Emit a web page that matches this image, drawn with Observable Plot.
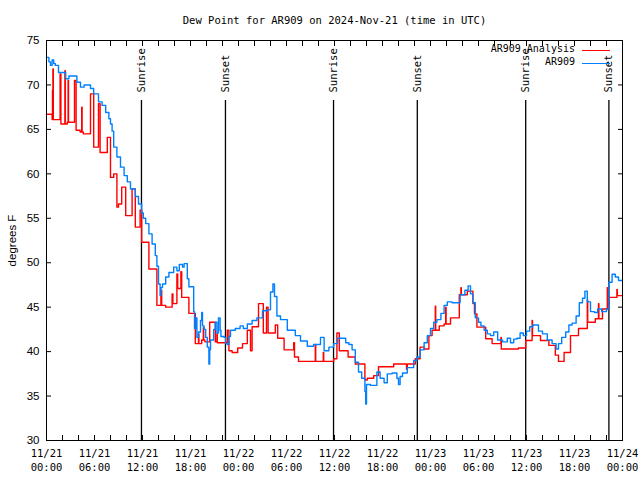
<!DOCTYPE html>
<html><head><meta charset="utf-8">
<script src="https://cdn.jsdelivr.net/npm/d3@7"></script>
<script src="https://cdn.jsdelivr.net/npm/@observablehq/plot@0.6"></script>
<style>
body{margin:0;background:#fff;}
#wrap{position:relative;width:640px;height:480px;overflow:hidden;}
#legend{position:absolute;right:0;top:0;font:10px "DejaVu Sans Mono",monospace;color:#000;}
.lrow{position:absolute;white-space:nowrap;}
.lrow span{position:absolute;right:65px;text-align:right;}
.lrow i{position:absolute;left:582px;width:28px;height:1.3px;}
</style>
</head><body><div id="wrap"><div id="legend"></div></div>
<script>
// hours after 2024-11-21 00:00 UTC
const obsHours = [0,0.3,0.5,0.7,0.9,1.1,1.5,2.4,2.8,3.8,4.25,4.7,5.5,5.9,6.5,6.95,7.4,7.8,8.0,8.2,8.4,8.8,9.25,9.7,10.1,10.5,11.1,11.5,11.9,12.1,12.4,12.8,13.2,13.6,13.8,14.0,14.2,14.3,14.5,14.9,15.3,15.9,16.3,16.6,17.0,17.2,17.6,17.8,18.4,18.5,18.7,18.8,19.0,19.25,19.4,19.5,19.7,19.9,20.1,20.3,20.4,20.5,20.9,21.1,21.3,21.5,21.7,21.8,22.2,22.4,22.6,22.8,23.0,23.6,24.2,24.6,25.1,25.7,26.3,27.0,27.6,28.0,28.3,28.5,28.8,29.25,30.1,31.1,31.75,32.6,33.4,34.25,34.7,35.3,35.9,36.4,37.4,37.8,38.2,38.6,39.0,39.4,39.8,39.9,40.0,40.5,41.3,41.7,42.2,42.6,43.2,43.8,44.0,44.2,44.5,45.1,45.9,46.3,46.7,47.2,47.6,48.0,48.4,48.8,49.3,49.7,50.1,50.7,51.7,52.3,52.7,53.0,53.3,53.6,54.0,54.3,54.7,55.1,55.5,55.9,56.4,57.0,57.6,58.0,58.4,58.8,59.2,59.6,60.0,60.4,60.8,61.5,62.0,62.6,63.2,63.7,64.0,64.4,64.9,65.3,65.7,66.2,66.6,67.0,67.3,67.6,68.0,68.5,68.9,69.4,70.0,70.3,70.7,71.1,71.5,72.0];
const obsDew = [73.1,72.6,72.2,72.8,72.4,72.2,71.4,70.7,71.0,70.3,69.75,70.0,69.6,69.0,68.1,67.7,66.9,66.2,65.6,64.8,63.0,61.9,60.75,59.8,59.1,58.3,57.45,56.6,55.6,55.0,54.4,53.25,52.1,50.8,49.6,47.6,46.3,47.2,47.6,48.4,48.9,49.5,49.1,49.8,49.5,49.9,48.2,47.3,44.5,42.6,43.8,41.6,42.2,43.5,44.4,42.9,42.5,41.6,40.5,38.6,40.2,41.3,42.5,43.3,42.1,43.8,42.4,41.7,41.6,40.9,40.8,41.7,42.4,42.6,42.9,42.6,43.1,43.5,43.8,44.6,44.7,46.7,47.6,46.2,44.0,43.6,42.4,41.8,41.2,40.6,40.8,41.6,40.1,40.5,40.9,41.5,41.0,40.8,40.2,38.8,37.7,37.0,35.5,34.1,36.3,36.2,37.7,37.0,36.5,37.5,37.6,37.0,36.3,37.2,37.6,38.2,39.0,39.4,40.2,41.0,41.8,42.6,43.3,43.6,44.3,45.2,45.6,45.5,46.4,46.9,47.4,46.5,45.5,43.8,43.3,42.9,42.4,42.0,41.8,42.2,41.3,41.1,41.5,41.0,41.4,41.5,42.1,41.8,42.3,42.8,43.0,42.3,42.0,41.3,40.9,40.3,40.9,41.6,42.2,43.0,43.2,44.0,45.5,46.0,46.8,45.6,44.5,44.4,44.8,44.5,44.8,47.8,48.7,48.4,48.0,48.0];
const anaHours = [0,0.7,0.75,0.8,0.85,1.7,1.8,2.3,2.35,2.6,2.7,2.75,3.5,3.7,4.2,4.4,4.45,4.6,5.5,5.9,6.5,6.7,7.6,8.0,8.4,8.8,9.0,9.4,9.9,10.7,11.1,11.7,11.9,12.8,13.8,14.3,14.4,14.9,15.7,15.8,16.3,16.4,16.8,16.9,17.8,18.6,19.0,19.05,19.4,19.6,19.65,19.8,20.4,21.1,21.3,21.35,22.6,22.8,23.2,23.9,24.5,25.1,25.5,25.7,26.5,27.1,27.5,27.7,28.6,28.9,29.7,30.9,31.0,31.5,33.6,33.65,34.6,34.65,35.9,36.3,36.6,37.7,38.6,39.8,40.1,40.9,41.5,43.4,45.0,45.1,46.1,46.7,47.2,47.8,48.2,48.6,48.65,49.1,49.7,49.9,49.95,50.5,51.6,51.8,51.85,52.6,53.3,53.5,53.8,54.9,55.7,56.8,56.85,59.0,59.9,60.7,60.75,61.75,62.8,63.6,64.0,64.7,65.5,66.5,67.6,67.65,68.6,69.0,69.05,69.5,70.1,70.15,70.3,71.3,71.35,72.0];
const anaDew = [66.7,66.1,69.4,71.8,66.1,71.25,65.6,71.6,65.6,65.8,70.5,65.8,70.5,64.9,64.7,67.5,64.7,64.5,69.0,63.0,67.9,62.4,64.1,59.6,60.0,56.25,56.6,58.5,55.3,58.3,54.0,55.9,52.3,49.3,45.2,46.9,45.2,45.0,46.5,45.4,48.75,47.1,49.0,46.1,44.3,40.9,42.0,40.9,41.3,42.7,41.3,41.1,43.3,41.1,42.0,41.0,42.4,40.1,39.9,40.4,40.9,42.4,40.1,42.8,45.4,42.1,45.0,42.1,43.0,41.5,40.2,41.0,39.4,38.9,40.8,38.9,39.9,38.9,39.2,42.1,40.1,39.4,38.6,36.8,37.0,37.3,38.3,38.6,38.0,38.6,39.2,40.5,40.3,41.8,42.4,45.1,42.4,42.9,43.1,45.0,43.1,43.8,46.4,47.2,46.4,46.8,45.4,44.25,42.75,41.45,40.9,41.6,40.3,40.4,41.25,43.5,41.8,41.25,40.7,39.6,38.9,39.9,41.8,42.6,45.8,43.3,43.7,45.4,43.7,44.8,47.2,44.8,46.1,47.0,46.3,46.3];
const sunHours = [11.87, 22.37, 35.88, 46.35, 59.9, 70.3];
const sunLabels = ["Sunrise","Sunset","Sunrise","Sunset","Sunrise","Sunset"];
const yTicks = [30,35,40,45,50,55,60,65,70,75];
const seriesNames = ["AR909 Analysis","AR909"];
const seriesColors = ["#ff0000","#0080ff"];
const titleText = "Dew Point for AR909 on 2024-Nov-21 (time in UTC)";
const yLabel = "degrees F";

const start = Date.UTC(2024,10,21);
const toDate = h => new Date(start + h*3600e3);
const obs = obsHours.map((h,i)=>({t:toDate(h), v:obsDew[i]}));
const ana = anaHours.map((h,i)=>({t:toDate(h), v:anaDew[i]}));
const sun = sunHours.map((h,i)=>({t:toDate(h), label:sunLabels[i]}));
const yDom = [yTicks[0], yTicks[yTicks.length-1]];
const frac = f => yDom[0] + f*(yDom[1]-yDom[0]);
const major = d3.utcHour.every(6).range(toDate(0), toDate(72.01));
const minor = d3.utcHour.every(2).range(toDate(0), toDate(72.01));
const fmt = d3.utcFormat("%m/%d\n%H:%M");

const chart = Plot.plot({
  width:640, height:480, marginLeft:46, marginRight:18, marginTop:40, marginBottom:40,
  style:{fontFamily:"'DejaVu Sans Mono', monospace", fontSize:"10px", background:"white", color:"black"},
  x:{type:"utc", domain:[toDate(0), toDate(72)]},
  y:{domain:yDom},
  marks:[
    Plot.ruleX(sun, {x:"t", y1:yDom[0], y2:frac(0.85), stroke:"black", strokeWidth:1.3}),
    Plot.text(sun, {x:"t", y:frac(0.87), text:"label", rotate:-90, textAnchor:"start", fontSize:10.5}),
    Plot.line(ana, {x:"t", y:"v", curve:"step-after", stroke:seriesColors[0], strokeWidth:1.4}),
    Plot.line(obs, {x:"t", y:"v", curve:"step-after", stroke:seriesColors[1], strokeWidth:1.4}),
    Plot.frame({stroke:"black"}),
    Plot.axisX({ticks:minor, tickSize:-5, tickFormat:()=>"", anchor:"bottom", label:null}),
    Plot.axisX({ticks:minor, tickSize:-5, tickFormat:()=>"", anchor:"top", label:null}),
    Plot.axisX({ticks:major, tickSize:0, tickPadding:6, tickFormat:fmt, anchor:"bottom", label:null, lineHeight:1.35, fontSize:10.5}),
    Plot.axisY({ticks:yTicks, tickSize:-5, tickPadding:12, anchor:"left", label:yLabel, labelAnchor:"center", labelArrow:"none", labelOffset:39, fontFamily:"'Liberation Sans', Arial, sans-serif", fontSize:11.5}),
    Plot.axisY({ticks:yTicks, tickSize:-5, tickFormat:()=>"", anchor:"right", label:null}),
    Plot.text([titleText], {text:d=>d, frameAnchor:"top", dy:-24, fontSize:10.5})
  ]
});
document.getElementById("wrap").prepend(chart);

const leg = document.getElementById("legend");
seriesNames.forEach((n,i)=>{
  const row = document.createElement("div");
  row.className = "lrow";
  row.style.top = (43 + i*13) + "px";
  row.style.left = "0px"; row.style.width = "640px";
  row.innerHTML = `<span>${n}</span><i style="background:${seriesColors[i]};top:7px"></i>`;
  leg.appendChild(row);
});
leg.style.left="0px"; leg.style.width="640px";
</script>
</body></html>
